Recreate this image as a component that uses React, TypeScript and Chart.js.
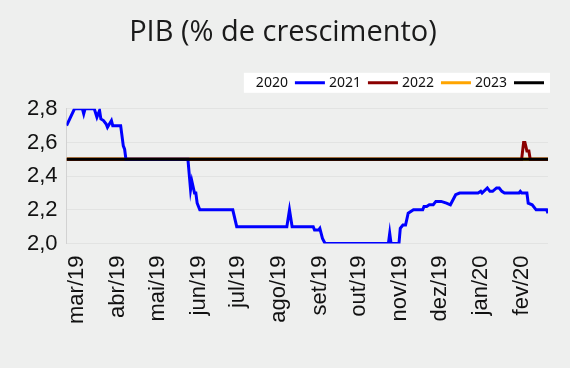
import React, { useEffect, useRef } from 'react';
import { Chart, registerables } from 'chart.js';

Chart.register(...registerables);

// x values are days counted from 1 March 2019
const monthTicks = [0, 31, 61, 92, 122, 153, 184, 214, 245, 275, 306, 337];
const monthLabels = ['mar/19', 'abr/19', 'mai/19', 'jun/19', 'jul/19', 'ago/19', 'set/19', 'out/19', 'nov/19', 'dez/19', 'jan/20', 'fev/20'];
const yTicks = [2.0, 2.2, 2.4, 2.6, 2.8];

const seriesNames = ['2020', '2021', '2022', '2023'];
const seriesColors = ['#0000ff', '#8b0000', '#ffa500', '#000000'];

const days2020 = [-8, -2, 4, 5, 6, 13, 15, 17, 18, 20, 22, 23, 26, 27, 33, 35, 36, 37, 84, 86, 87, 89, 90, 91, 93, 118, 121, 159, 161, 163, 179, 180, 183, 184, 185, 186, 188, 236, 237, 238, 244, 245, 247, 249, 251, 255, 262, 263, 265, 267, 270, 272, 276, 280, 283, 285, 287, 290, 304, 306, 307, 311, 313, 315, 318, 320, 322, 324, 335, 336, 337, 341, 342, 345, 348, 356, 357];
const values2020 = [2.7, 2.8, 2.8, 2.77, 2.8, 2.8, 2.75, 2.79, 2.74, 2.73, 2.71, 2.69, 2.73, 2.7, 2.7, 2.58, 2.56, 2.5, 2.5, 2.32, 2.37, 2.3, 2.3, 2.24, 2.2, 2.2, 2.1, 2.1, 2.2, 2.1, 2.1, 2.08, 2.08, 2.09, 2.06, 2.03, 2.0, 2.0, 2.06, 2.0, 2.0, 2.09, 2.11, 2.11, 2.18, 2.2, 2.2, 2.22, 2.22, 2.23, 2.23, 2.25, 2.25, 2.24, 2.23, 2.26, 2.29, 2.3, 2.3, 2.31, 2.3, 2.33, 2.31, 2.31, 2.33, 2.33, 2.31, 2.3, 2.3, 2.31, 2.3, 2.3, 2.24, 2.23, 2.2, 2.2, 2.18];

const days2021 = [-8, 337, 338.5, 339.5, 341, 342.5, 343.5, 357];
const values2021 = [2.5, 2.5, 2.6, 2.6, 2.55, 2.55, 2.5, 2.5];

const days2022 = [-8, 357];
const values2022 = [2.5, 2.5];

const days2023 = [-8, 357];
const values2023 = [2.5, 2.5];

const BG = 'rgb(238,239,238)';

const toPoints = (xs: number[], ys: number[]) => xs.map((x, i) => ({ x, y: ys[i] }));

const legendBg = {
  id: 'legendBg',
  beforeLayout(chart: any) {
    const lg = chart.legend;
    if (lg && !lg.__patched) {
      const orig = lg.fit.bind(lg);
      lg.fit = function () {
        orig();
        this.height += 9;
      };
      lg.__patched = true;
    }
  },
  beforeDraw(chart: any) {
    const lg = chart.legend;
    if (!lg || !lg.legendHitBoxes || !lg.legendHitBoxes.length) return;
    let l = Infinity, r = -Infinity, t = Infinity, b = -Infinity;
    lg.legendHitBoxes.forEach((h: any) => {
      l = Math.min(l, h.left);
      r = Math.max(r, h.left + h.width);
      t = Math.min(t, h.top);
      b = Math.max(b, h.top + h.height);
    });
    const ctx = chart.ctx;
    ctx.save();
    ctx.fillStyle = '#ffffff';
    ctx.fillRect(l - 12, t - 3, r - l + 18, b - t + 6);
    ctx.restore();
  },
};

export default function App() {
  const canvasRef = useRef<HTMLCanvasElement | null>(null);

  useEffect(() => {
    document.body.style.margin = '0';
    document.body.style.background = BG;
    const canvas = canvasRef.current;
    if (!canvas) return;
    const datasets = [
      { label: seriesNames[0], data: toPoints(days2020, values2020), borderColor: seriesColors[0], borderWidth: 3, order: 1 },
      { label: seriesNames[1], data: toPoints(days2021, values2021), borderColor: seriesColors[1], borderWidth: 3, order: 2 },
      { label: seriesNames[2], data: toPoints(days2022, values2022), borderColor: seriesColors[2], borderWidth: 3.4, order: 3 },
      { label: seriesNames[3], data: toPoints(days2023, values2023), borderColor: seriesColors[3], borderWidth: 3, order: 0 },
    ].map((d) => ({ ...d, backgroundColor: d.borderColor, pointRadius: 0, pointHoverRadius: 0, tension: 0, fill: false }));

    const chart = new Chart(canvas, {
      type: 'line',
      data: { datasets },
      plugins: [legendBg],
      options: {
        animation: false,
        responsive: true,
        maintainAspectRatio: false,
        layout: { padding: { left: 18, right: 22, top: 0, bottom: 40 } },
        plugins: {
          tooltip: { enabled: false },
          title: {
            display: true,
            text: 'PIB (% de crescimento)',
            color: '#1a1a1a',
            font: { family: 'Open Sans', size: 29, weight: 'normal' },
            padding: { top: 15, bottom: 22 },
          },
          legend: {
            display: true,
            position: 'top',
            align: 'start',
            rtl: true,
            reverse: true,
            labels: {
              boxWidth: 30,
              boxHeight: 3,
              padding: 4,
              color: '#111111',
              font: { family: 'Noto Sans', size: 14 },
              generateLabels: (c: any) =>
                c.data.datasets.map((ds: any, i: number) => ({
                  text: ds.label,
                  fillStyle: ds.borderColor,
                  strokeStyle: ds.borderColor,
                  lineWidth: 0,
                  hidden: false,
                  datasetIndex: i,
                  fontColor: '#111111',
                })),
            },
          },
        },
        scales: {
          x: {
            type: 'linear',
            min: -8,
            max: 357,
            afterBuildTicks: (axis: any) => {
              axis.ticks = monthTicks.map((v) => ({ value: v }));
            },
            ticks: {
              autoSkip: false,
              minRotation: 90,
              maxRotation: 90,
              padding: 4,
              color: '#111111',
              font: { family: 'Liberation Sans', size: 22 },
              callback: (v: any) => {
                const i = monthTicks.indexOf(Number(v));
                return i >= 0 ? monthLabels[i] : '';
              },
            },
            grid: { display: false },
            border: { display: false },
          },
          y: {
            min: 2.0,
            max: 2.8,
            afterBuildTicks: (axis: any) => {
              axis.ticks = yTicks.map((v) => ({ value: v }));
            },
            ticks: {
              padding: 9,
              color: '#111111',
              font: { family: 'Liberation Sans', size: 22 },
              callback: (v: any) => Number(v).toFixed(1).replace('.', ','),
            },
            grid: { color: '#e2e3e2', drawTicks: false, lineWidth: 1 },
            border: { display: true, color: '#d2d2d2', width: 1 },
          },
        },
      },
    });
    return () => chart.destroy();
  }, []);

  return (
    <div style={{ position: 'relative', width: 570, height: 368, background: BG }}>
      <canvas ref={canvasRef} />
    </div>
  );
}
